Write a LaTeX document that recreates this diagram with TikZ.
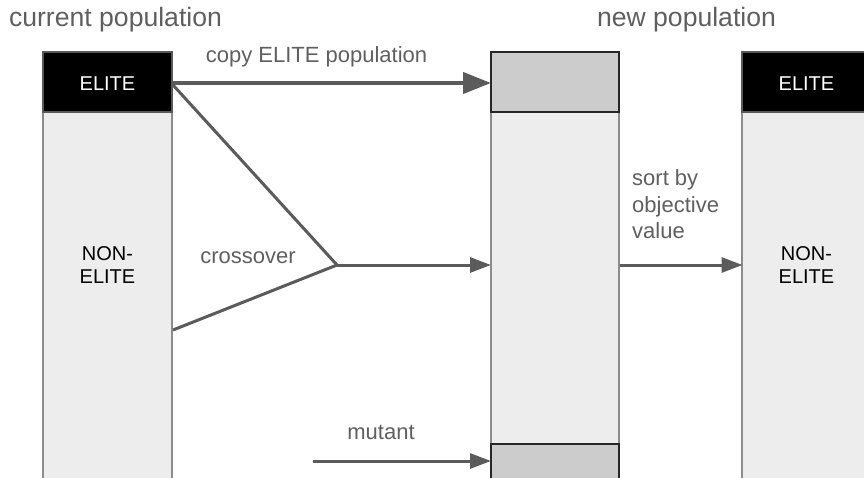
\documentclass[tikz,border=0pt]{standalone}
\usepackage{fontspec}
\setmainfont{Liberation Sans}
\usetikzlibrary{arrows.meta}
\definecolor{linegray}{HTML}{5B5B5B}
\definecolor{textgray}{HTML}{5F5F5F}
\definecolor{bodyfill}{HTML}{EDEDED}
\definecolor{slotfill}{HTML}{CCCCCC}
\definecolor{bodyedge}{HTML}{8C8C8C}
\tikzset{
  column/.style={draw=bodyedge, line width=1.2pt, fill=bodyfill, minimum width=129pt, inner sep=0pt, outer sep=0pt},
  elitebox/.style={draw=black!65, line width=1.2pt, fill=black, minimum width=129pt, minimum height=60pt, inner sep=0pt, outer sep=0pt},
  slotbox/.style={draw=black!85, line width=1.2pt, fill=slotfill, minimum width=128pt, inner sep=0pt, outer sep=0pt},
  title/.style={text=textgray, font=\fontsize{26.6}{32}\selectfont, inner sep=0pt, anchor=base},
  label/.style={text=textgray, font=\fontsize{22}{26.5}\selectfont, inner sep=0pt},
  boxtext/.style={font=\fontsize{20}{23}\selectfont, inner sep=0pt, align=center},
  flow/.style={draw=linegray, line width=3pt, -{Triangle[length=21pt,width=15pt]}},
  feed/.style={draw=linegray, line width=3pt, line cap=butt},
}
\begin{document}
\begin{tikzpicture}[x=1pt,y=-1pt]
\useasboundingbox (0,0) rectangle (864,478);
\clip (0,0) rectangle (864,478);

% current population
\node[column, minimum height=370pt] (curbody) at (107.5,297) {};
\node[elitebox] (curelite) at (107.5,82) {};
\node[text=white, font=\fontsize{20}{23}\selectfont, inner sep=0pt, anchor=base] (curelitetext) at (107.5,90.5) {ELITE};
\node[boxtext] (curnon) at (107.5,265.5) {NON-\\ELITE};

% new population, before sorting
\node[column, minimum width=128pt, minimum height=332pt] (midbody) at (555,278) {};
\node[slotbox, minimum height=60pt] (midtop) at (555,82) {};
\node[slotbox, minimum height=40pt] (midbot) at (555,464) {};

% new population, sorted
\node[column, minimum height=370pt] (newbody) at (806.5,297) {};
\node[elitebox] (newelite) at (806.5,82) {};
\node[text=white, font=\fontsize{20}{23}\selectfont, inner sep=0pt, anchor=base] (newelitetext) at (806.5,90.5) {ELITE};
\node[boxtext] (newnon) at (806.5,265.5) {NON-\\ELITE};

% titles
\node[title] (curtitle) at (115.5,27) {current population};
\node[title] (newtitle) at (686.5,27) {new population};

% connection points
\coordinate (eliteout) at (173,83);
\coordinate (eliteslant) at (173,85);
\coordinate (nonout) at (173,330);
\coordinate (join) at (337,265);
\coordinate (copyin) at (491,83);
\coordinate (crossin) at (491,265);
\coordinate (sortout) at (620,265);
\coordinate (sortin) at (742.5,265);
\coordinate (mutsrc) at (313,461);
\coordinate (mutin) at (491,461);

% copy elite
\draw[draw=linegray, line width=4.2pt, -{Triangle[length=28pt,width=21pt]}] (eliteout) -- (copyin);
\node[label, anchor=base] (copylabel) at (316.5,63) {copy ELITE population};

% crossover
\draw[feed] (eliteslant) -- (join);
\draw[feed] (nonout) -- (join);
\draw[flow] (join) -- (crossin);
\node[label, anchor=base] (crosslabel) at (248,264) {crossover};

% mutant
\draw[flow] (mutsrc) -- (mutin);
\node[label, anchor=base] (mutlabel) at (381,439) {mutant};

% sort
\draw[flow] (sortout) -- (sortin);
\node[label, anchor=base west] (sort1) at (632,186) {sort by};
\node[label, anchor=base west] (sort2) at (632,212.5) {objective};
\node[label, anchor=base west] (sort3) at (632,239) {value};
\end{tikzpicture}
\end{document}
